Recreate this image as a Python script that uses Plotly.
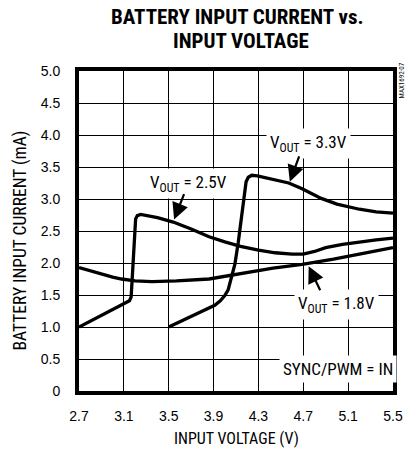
import plotly.graph_objects as go

# ---- axis ticks ----
x_ticks = [2.7, 3.1, 3.5, 3.9, 4.3, 4.7, 5.1, 5.5]
x_tick_labels = ["2.7", "3.1", "3.5", "3.9", "4.3", "4.7", "5.1", "5.5"]
y_ticks = [0, 0.5, 1.0, 1.5, 2.0, 2.5, 3.0, 3.5, 4.0, 4.5, 5.0]
y_tick_labels = ["0", "0.5", "1.0", "1.5", "2.0", "2.5", "3.0", "3.5", "4.0", "4.5", "5.0"]

# ---- series (input voltage V, battery current mA) ----
v_out_18 = [2.70, 2.87, 3.00, 3.08, 3.20, 3.35, 3.57, 3.86, 4.14, 4.43, 4.69, 4.97, 5.20, 5.50]
i_out_18 = [1.93, 1.84, 1.78, 1.75, 1.72, 1.71, 1.72, 1.75, 1.83, 1.92, 1.98, 2.06, 2.14, 2.24]

v_out_25 = [2.70, 2.90, 3.10, 3.150, 3.165, 3.175, 3.185, 3.195, 3.205, 3.220, 3.250,
            3.400, 3.540, 3.700, 3.860, 4.000, 4.140, 4.300, 4.450, 4.600, 4.700,
            4.800, 4.900, 5.050, 5.200, 5.350, 5.500]
i_out_25 = [1.00, 1.18, 1.36, 1.41, 1.47, 1.80, 2.20, 2.55, 2.69, 2.74, 2.76,
            2.71, 2.64, 2.53, 2.41, 2.33, 2.26, 2.20, 2.16, 2.14, 2.14,
            2.18, 2.24, 2.29, 2.33, 2.36, 2.39]

v_out_33 = [3.50, 3.91, 3.96, 4.00, 4.03, 4.05, 4.07, 4.09, 4.12, 4.15, 4.175,
            4.19, 4.21, 4.24, 4.29, 4.40, 4.57, 4.69, 4.86, 5.00, 5.09, 5.20,
            5.35, 5.50]
i_out_33 = [1.00, 1.34, 1.41, 1.49, 1.58, 1.70, 1.82, 1.98, 2.32, 2.75, 3.10,
            3.27, 3.34, 3.37, 3.36, 3.32, 3.25, 3.16, 3.01, 2.92, 2.88, 2.84,
            2.80, 2.78]

series = [(v_out_18, i_out_18), (v_out_25, i_out_25), (v_out_33, i_out_33)]

REG = "Liberation Sans, Arial, Helvetica, sans-serif"
NARROW = "Roboto Condensed, Liberation Sans, sans-serif"

fig = go.Figure()
for v, i in series:
    fig.add_trace(go.Scatter(x=v, y=i, mode="lines",
                             line=dict(color="black", width=3.3),
                             hoverinfo="skip", showlegend=False))

axis_common = dict(showgrid=True, gridcolor="black", gridwidth=1,
                   showline=True, linewidth=4, linecolor="black", mirror=True,
                   ticks="", zeroline=False, ticklabeloverflow="allow",
                   tickfont=dict(family=REG, size=14, color="black"))

fig.update_xaxes(range=[2.7, 5.5], tickvals=x_ticks, ticktext=x_tick_labels,
                 ticklabelstandoff=9, **axis_common)
fig.update_yaxes(range=[0, 5], tickvals=y_ticks, ticktext=y_tick_labels,
                 ticklabelstandoff=12, **axis_common)

ann = []
# title (two lines)
ann.append(dict(xref="paper", yref="paper", x=0.5046, y=1.1703,
                text="<b>BATTERY INPUT CURRENT vs.</b>",
                showarrow=False, xanchor="center", yanchor="middle",
                font=dict(family=NARROW, size=21, color="black")))
ann.append(dict(xref="paper", yref="paper", x=0.515, y=1.0922,
                text="<b>INPUT VOLTAGE</b>",
                showarrow=False, xanchor="center", yanchor="middle",
                font=dict(family=NARROW, size=21, color="black")))
# axis titles
ann.append(dict(xref="paper", yref="paper", x=0.503, y=-0.147,
                text="INPUT VOLTAGE (V)", showarrow=False,
                xanchor="center", yanchor="middle",
                font=dict(family=NARROW, size=16, color="black")))
ann.append(dict(xref="paper", yref="paper", x=-0.1858, y=0.469,
                text="BATTERY INPUT CURRENT (mA)", showarrow=False,
                textangle=-90, xanchor="center", yanchor="middle",
                font=dict(family=NARROW, size=17.5, color="black")))
ann.append(dict(xref="paper", yref="paper", x=1.027, y=0.972,
                text="MAX1692-07", showarrow=False, textangle=-90,
                xanchor="center", yanchor="middle",
                font=dict(family=NARROW, size=7, color="black")))

# curve labels
labels = [
    ("V<sub>OUT</sub> = 2.5V", 3.678, 3.24),
    ("V<sub>OUT</sub> = 3.3V", 4.750, 3.86),
    ("V<sub>OUT</sub> = 1.8V", 4.994, 1.35),
    ("SYNC/PWM = IN", 5.007, 0.35),
]
for t, x, y in labels:
    ann.append(dict(xref="x", yref="y", x=x, y=y, text=t, showarrow=False,
                    xanchor="center", yanchor="middle", bgcolor="white",
                    borderpad=3,
                    font=dict(family=NARROW, size=17, color="black")))

# arrows (tail -> tip)
arrows = [
    (3.642, 3.10, 3.548, 2.68),
    (4.668, 3.69, 4.580, 3.27),
    (4.857, 1.55, 4.748, 1.95),
]
for ax_, ay_, x, y in arrows:
    ann.append(dict(xref="x", yref="y", axref="x", ayref="y",
                    x=x, y=y, ax=ax_, ay=ay_, text="", showarrow=True,
                    arrowhead=2, arrowsize=1.5, arrowwidth=2.2,
                    arrowcolor="black", standoff=0, startstandoff=0))

fig.update_layout(width=415, height=453,
                  margin=dict(l=79, r=13, t=71, b=62),
                  paper_bgcolor="white", plot_bgcolor="white",
                  annotations=ann, showlegend=False)

fig.write_html("out.html", config={"displayModeBar": False},
               post_script="document.body.style.margin='0px';")
